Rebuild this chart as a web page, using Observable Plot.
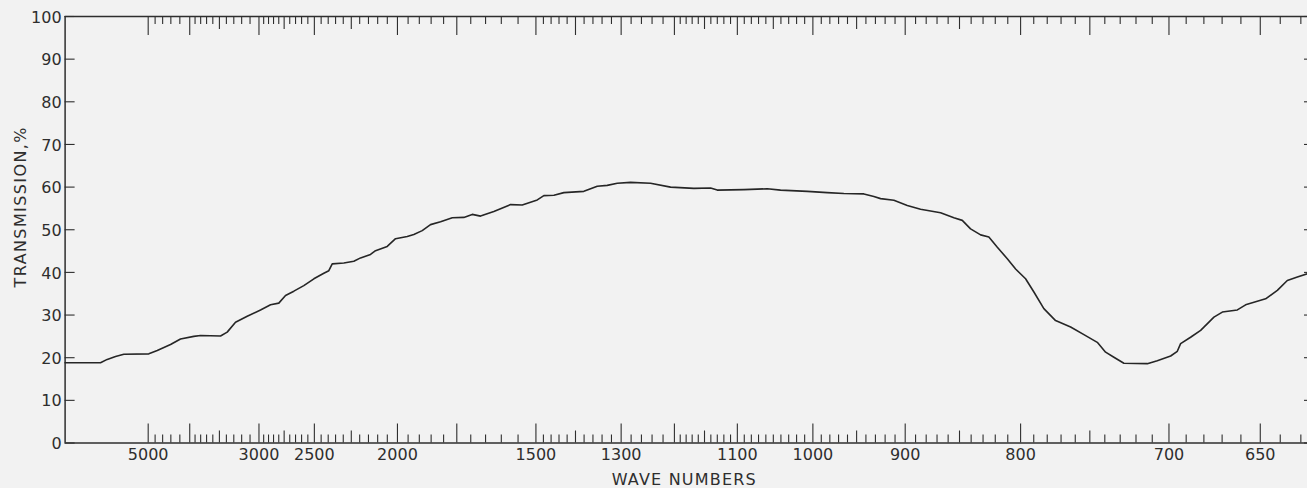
<!DOCTYPE html>
<html>
<head>
<meta charset="utf-8">
<script src="https://cdn.jsdelivr.net/npm/d3@7"></script>
<script src="https://cdn.jsdelivr.net/npm/@observablehq/plot@0.6"></script>
<style>
  html, body { margin: 0; padding: 0; background: #f2f2f2; }
  #chart svg { display: block; }
</style>
</head>
<body>
<div id="chart"></div>
<script>
// Infrared transmission spectrum. The chart paper is linear in wavelength (µm),
// while the scale is labelled in wave numbers (cm⁻¹ = 10000 / µm).
const wavelengthUm = [
  1.000, 1.426, 1.507, 1.607, 1.707, 2.008, 2.109, 2.269, 2.389, 2.549,
  2.630, 2.871, 2.951, 3.051, 3.192, 3.352, 3.473, 3.572, 3.653, 3.753,
  3.873, 3.994, 4.114, 4.174, 4.215, 4.355, 4.475, 4.556, 4.676, 4.736,
  4.877, 4.977, 5.118, 5.197, 5.298, 5.398, 5.519, 5.660, 5.799, 5.900,
  6.000, 6.160, 6.361, 6.502, 6.683, 6.762, 6.883, 7.003, 7.244, 7.405,
  7.525, 7.646, 7.806, 8.046, 8.287, 8.568, 8.769, 8.849, 9.170, 9.451,
  9.611, 9.933, 10.173, 10.373, 10.614, 10.734, 10.815, 10.975, 11.136, 11.296,
  11.537, 11.697, 11.798, 11.898, 12.019, 12.118, 12.220, 12.340, 12.440, 12.560,
  12.660, 12.780, 12.921, 13.102, 13.262, 13.423, 13.523, 13.623, 13.743, 14.025,
  14.145, 14.306, 14.386, 14.426, 14.546, 14.667, 14.827, 14.928, 15.109, 15.208,
  15.449, 15.590, 15.710, 15.831, 15.951, 16.000
];
const transmission = [
  18.8, 18.8, 19.6, 20.3, 20.8, 20.9, 21.7, 23.1, 24.4, 25.0,
  25.2, 25.1, 26.0, 28.3, 29.7, 31.2, 32.4, 32.8, 34.6, 35.6,
  36.9, 38.5, 39.8, 40.4, 42.0, 42.2, 42.6, 43.4, 44.2, 45.1,
  46.1, 47.9, 48.4, 48.9, 49.8, 51.2, 51.9, 52.8, 52.9, 53.6,
  53.2, 54.3, 55.9, 55.8, 57.0, 58.0, 58.1, 58.7, 59.0, 60.2,
  60.4, 60.9, 61.1, 60.9, 60.0, 59.7, 59.8, 59.3, 59.4, 59.6,
  59.3, 59.0, 58.7, 58.5, 58.4, 57.8, 57.3, 56.9, 55.7, 54.8,
  54.0, 52.8, 52.2, 50.2, 48.8, 48.3, 45.9, 43.2, 40.8, 38.5,
  35.4, 31.5, 28.7, 27.2, 25.4, 23.6, 21.3, 20.1, 18.7, 18.6,
  19.3, 20.4, 21.5, 23.3, 24.8, 26.4, 29.5, 30.7, 31.2, 32.4,
  33.8, 35.8, 38.1, 38.9, 39.7, 40.0
];

// Scale labels and tick marks, in wave numbers
const waveNumberLabels = [5000, 3000, 2500, 2000, 1500, 1300, 1100, 1000, 900, 800, 700, 650];
const transmissionTicks = [0, 10, 20, 30, 40, 50, 60, 70, 80, 90, 100];
const bottomMajorTicks = [5000, 4000, 3000, 2500, 2000, 1750, 1500, 1300, 1200, 1100, 1000, 900, 800, 700, 650];
const bottomMediumTicks = [3500, 2750, 2250, 1400, 1150, 950, 850, 750];
const topMajorTicks = [5000, 4000, 3000, 2500, 2000, 1750, 1500, 1400, 1300, 1200, 1100, 1000, 900, 800, 750, 700, 650];
const topMediumTicks = [3500, 2750, 2250, 1150, 1050, 950, 850];
// Minor graduations: [from, down to, step] in cm⁻¹
const minorTickRuns = [[5000, 4000, 200], [4000, 3000, 100], [3000, 1500, 50], [1500, 1200, 20], [1200, 620, 10]];

const xTitle = "WAVE NUMBERS";
const yTitle = "TRANSMISSION,%";

const spectrum = wavelengthUm.map((w, i) => ({w, t: transmission[i]}));
const toUm = (wn) => 10000 / wn;

const minorAll = minorTickRuns.flatMap(([a, b, s]) => d3.range(a, b, -s));
const bottomMinor = minorAll.filter((v) => !bottomMajorTicks.includes(v) && !bottomMediumTicks.includes(v));
const topMinor = minorAll.filter((v) => !topMajorTicks.includes(v) && !topMediumTicks.includes(v));

const ink = "#2e2e2e";
const tickStyle = {fill: "none", stroke: ink, strokeWidth: 1.1};

const chart = Plot.plot({
  width: 1307,
  height: 488,
  marginLeft: 64.6,
  marginRight: 0,
  marginTop: 16,
  marginBottom: 45.5,
  style: {background: "#f2f2f2", color: ink, fontFamily: "DejaVu Sans", fontSize: "16px"},
  x: {domain: [1, 16], range: [64.6, 1310.9]},
  y: {domain: [0, 100]},
  marks: [
    // chart borders
    Plot.ruleY([0, 100], {stroke: ink, strokeWidth: 1.5}),
    Plot.ruleX([1], {stroke: ink, strokeWidth: 1.5}),

    // bottom wave-number graduations (pointing up)
    Plot.axisX(bottomMajorTicks.map(toUm), {anchor: "bottom", tickSize: 19, dy: -19, ...tickStyle}),
    Plot.axisX(bottomMediumTicks.map(toUm), {anchor: "bottom", tickSize: 12, dy: -12, ...tickStyle}),
    Plot.axisX(bottomMinor.map(toUm), {anchor: "bottom", tickSize: 8, dy: -8, ...tickStyle}),

    // top wave-number graduations (pointing down)
    Plot.axisX(topMajorTicks.map(toUm), {anchor: "top", tickSize: 18, dy: 18, ...tickStyle}),
    Plot.axisX(topMediumTicks.map(toUm), {anchor: "top", tickSize: 12, dy: 12, ...tickStyle}),
    Plot.axisX(topMinor.map(toUm), {anchor: "top", tickSize: 7, dy: 7, ...tickStyle}),

    // transmission ticks, inward on both sides
    Plot.axisY(transmissionTicks, {anchor: "left", tickSize: 10, dx: 10, ...tickStyle}),
    Plot.axisY(transmissionTicks, {anchor: "right", tickSize: 4, dx: -4, ...tickStyle}),

    // tick labels
    Plot.text(waveNumberLabels, {x: toUm, text: (d) => String(d), frameAnchor: "bottom", lineAnchor: "top", dy: 5.5, fill: ink}),
    Plot.text(transmissionTicks, {y: (d) => d, text: (d) => String(d), frameAnchor: "left", textAnchor: "end", dx: -3.5, dy: 1, fill: ink}),

    // axis titles
    Plot.text([xTitle], {frameAnchor: "bottom", textAnchor: "middle", dx: -2, dy: 41.5, fill: ink}),
    Plot.text([yTitle], {frameAnchor: "left", textAnchor: "middle", rotate: -90, dx: -44.6, dy: -23, fill: ink}),

    // spectrum trace
    Plot.line(spectrum, {x: "w", y: "t", stroke: "#262626", strokeWidth: 1.6, strokeLinejoin: "round"})
  ]
});

// Lettering of the titles is widely spaced on the chart paper
const spacing = {[xTitle]: "1.2px", [yTitle]: "1.4px"};
d3.select(chart).selectAll("text")
  .filter(function () { return this.textContent in spacing; })
  .attr("letter-spacing", function () { return spacing[this.textContent]; });

document.getElementById("chart").appendChild(chart);
</script>
</body>
</html>
